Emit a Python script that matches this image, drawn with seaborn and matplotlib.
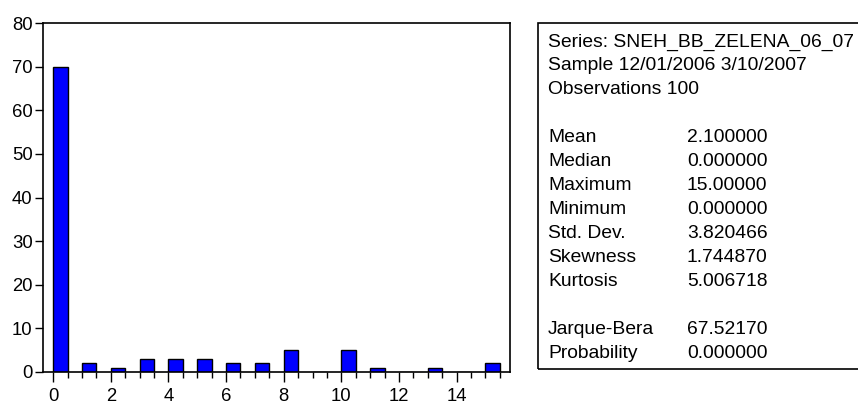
import numpy as np
import pandas as pd
import matplotlib
matplotlib.use("Agg")
import matplotlib.pyplot as plt
from matplotlib.ticker import MultipleLocator, FormatStrFormatter
from matplotlib.patches import Rectangle
import seaborn as sns

# Frequency of each observed value (integer counts of snow days)
values = [0, 1, 2, 3, 4, 5, 6, 7, 8, 9, 10, 11, 12, 13, 14, 15]
counts = [70, 2, 1, 3, 3, 3, 2, 2, 5, 0, 5, 1, 0, 1, 0, 2]
bin_width = 0.5

# Descriptive statistics panel
header_lines = [
    "Series: SNEH_BB_ZELENA_06_07",
    "Sample 12/01/2006 3/10/2007",
    "Observations 100",
]
stat_names = ["Mean", "Median", "Maximum", "Minimum", "Std. Dev.", "Skewness", "Kurtosis"]
stat_values = ["2.100000", "0.000000", "15.00000", "0.000000", "3.820466", "1.744870", "5.006718"]
test_names = ["Jarque-Bera", "Probability"]
test_values = ["67.52170", "0.000000"]

sns.set_style("white")
plt.rcParams["font.family"] = ["Liberation Sans", "DejaVu Sans"]
TICK_FS = 13.3
BOX_FS = 13.9

W, H = 858, 401
fig = plt.figure(figsize=(W / 100, H / 100), dpi=100)


def px_rect(x0, y0, x1, y1):
    return [x0 / W, 1 - y1 / H, (x1 - x0) / W, (y1 - y0) / H]


ax = fig.add_axes(px_rect(43, 23, 510, 372))
# each histogram bin is [v, v + 0.5), so the bar sits at the bin centre
df = pd.DataFrame({"bin_centre": np.array(values) + bin_width / 2, "count": counts})
sns.barplot(
    data=df, x="bin_centre", y="count", native_scale=True, width=bin_width,
    color="#0000FF", saturation=1, edgecolor="black", linewidth=1.0,
    errorbar=None, ax=ax,
)
ax.set_xlim(-0.35, 15.85)
ax.set_ylim(0, 80)
ax.set_xlabel("")
ax.set_ylabel("")
ax.xaxis.set_major_locator(MultipleLocator(2))
ax.xaxis.set_minor_locator(MultipleLocator(0.5))
ax.xaxis.set_major_formatter(FormatStrFormatter("%d"))
ax.yaxis.set_major_locator(MultipleLocator(10))
ax.tick_params(axis="x", which="major", direction="out", length=7.5, width=1.0,
               colors="black", labelsize=TICK_FS, pad=4, bottom=True)
ax.tick_params(axis="x", which="minor", direction="out", length=4, width=1.0,
               colors="black", bottom=True)
ax.tick_params(axis="y", which="major", direction="out", length=5.5, width=1.0,
               colors="black", labelsize=TICK_FS, pad=2, left=True)
for sp in ax.spines.values():
    sp.set_visible(True)
    sp.set_color("black")
    sp.set_linewidth(1.2)

# Statistics box on the right
box = Rectangle((538 / W, 1 - 369 / H), (W + 10 - 538) / W, (369 - 23) / H,
                transform=fig.transFigure, fill=False, edgecolor="black",
                linewidth=1.2, clip_on=False)
fig.patches.append(box)

x_lab = 548
x_val = 687
y0 = 42
step = 23.95


def put(x, row, s):
    fig.text(x / W, 1 - (y0 + row * step) / H, s, fontsize=BOX_FS,
             ha="left", va="center", color="black")


for i, s in enumerate(header_lines):
    put(x_lab, i, s)
for i, (n, v) in enumerate(zip(stat_names, stat_values)):
    put(x_lab, 4 + i, n)
    put(x_val, 4 + i, v)
for i, (n, v) in enumerate(zip(test_names, test_values)):
    put(x_lab, 12 + i, n)
    put(x_val, 12 + i, v)

fig.savefig("out.png", dpi=100)
